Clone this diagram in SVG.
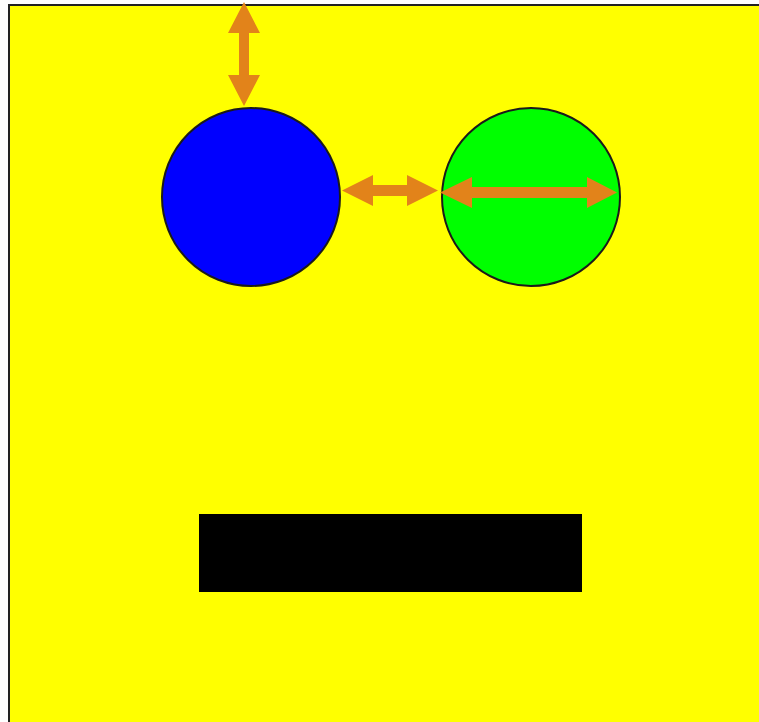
<svg xmlns="http://www.w3.org/2000/svg" width="759" height="722" viewBox="0 0 759 722">
<style>
.arrow{fill:#e2831a;stroke:none}
.node{stroke:#1a1a1a;stroke-width:2}
</style>
<rect width="759" height="722" fill="#ffffff"/>
<g id="face">
<rect x="9" y="5" width="770" height="740" fill="#ffff00" stroke="#222222" stroke-width="2"/>
</g>
<g id="left-eye">
<circle class="node" cx="251" cy="197" r="89" fill="#0000ff"/>
</g>
<g id="right-eye">
<circle class="node" cx="531" cy="197" r="89" fill="#00ff00"/>
</g>
<g id="mouth">
<rect x="199" y="514" width="383" height="78" fill="#000000"/>
</g>
<g id="connectors">
<polygon class="arrow" points="244,2 260,33 249,33 249,75 260,75 244,106 228,75 239,75 239,33 228,33"/>
<polygon class="arrow" points="342,190.5 373,175 373,185 407,185 407,175 438,190.5 407,206 407,196 373,196 373,206"/>
<polygon class="arrow" points="440,192.5 472,177 472,187 587,187 587,177 617,192.5 587,208 587,198 472,198 472,208"/>
</g>
</svg>
